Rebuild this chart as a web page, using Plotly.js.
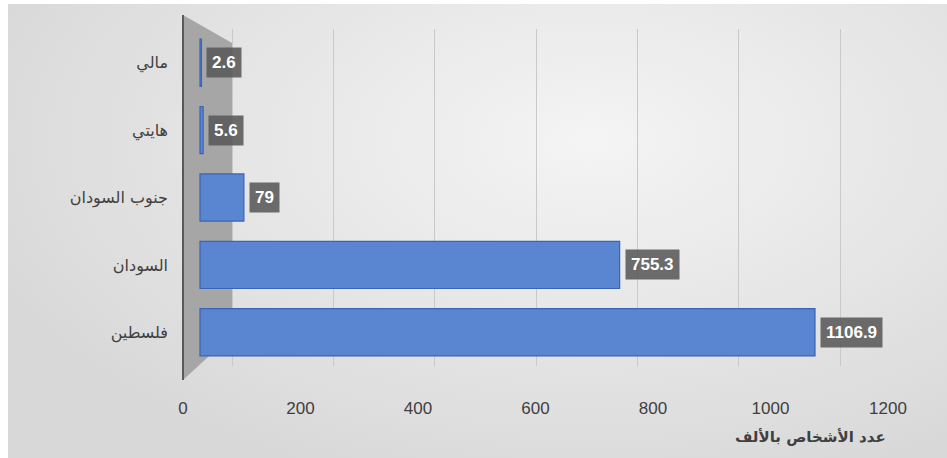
<!DOCTYPE html>
<html>
<head>
<meta charset="utf-8">
<script src="https://cdn.plot.ly/plotly-3.0.1.min.js"></script>
<style>
  html, body { margin: 0; padding: 0; background: #ffffff; }
  #chart {
    position: absolute; left: 8px; top: 4px; width: 939px; height: 454px;
    background: radial-gradient(ellipse 70% 80% at 62% 30%, #f4f4f4 0%, #e8e8e8 45%, #d8d8d8 100%);
  }
</style>
</head>
<body>
<div id="chart"></div>
<script>
// ---- data ----
const categories = ['مالي', 'هايتي', 'جنوب السودان', 'السودان', 'فلسطين'];
const values = [2.6, 5.6, 79, 755.3, 1106.9];
const xTickVals = [0, 200, 400, 600, 800, 1000, 1200];
const xTickText = ['0', '200', '400', '600', '800', '1000', '1200'];
const xAxisTitle = 'عدد الأشخاص بالألف';

// ---- layout geometry (page pixels) ----
const divLeft = 8, divTop = 4, W = 939, H = 454;
const m = { l: 175, r: 59, t: 25, b: 92 };
const plotW = W - m.l - m.r, plotH = H - m.t - m.b;
const pL = divLeft + m.l, pT = divTop + m.t;
const px2paper = px => (px - pL) / plotW;
const py2paper = py => 1 - (py - pT) / plotH;

function rangeFor(zeroPx, pxPerUnit) {
  return [(pL - zeroPx) / pxPerUnit, (pL + plotW - zeroPx) / pxPerUnit];
}

const wallPath = 'M ' + px2paper(183) + ' ' + py2paper(15) +
  ' L ' + px2paper(232) + ' ' + py2paper(43) +
  ' L ' + px2paper(232) + ' ' + py2paper(335) +
  ' L ' + px2paper(183) + ' ' + py2paper(380) + ' Z';

// empty helper traces so the tick-label axis (x) and back-wall grid axis (x2) are drawn
const tickTrace = { type: 'scatter', mode: 'markers', x: [], y: [], xaxis: 'x', yaxis: 'y',
  hoverinfo: 'skip', showlegend: false };
const gridTrace = { type: 'scatter', mode: 'markers', x: [], y: [], xaxis: 'x2', yaxis: 'y',
  hoverinfo: 'skip', showlegend: false };

const barTrace = {
  type: 'bar',
  orientation: 'h',
  x: values,
  y: categories,
  xaxis: 'x3',
  yaxis: 'y',
  width: 0.7,
  marker: { color: '#5A85D1', line: { color: '#3B64B5', width: 1.2 } },
  hoverinfo: 'skip',
  showlegend: false
};

const labelAnnotations = values.map((v, i) => ({
  x: v, y: categories[i], xref: 'x3', yref: 'y',
  text: '<b>' + v + '</b>',
  showarrow: false, xanchor: 'left', yanchor: 'middle', xshift: 5,
  bgcolor: 'rgba(89,89,89,0.88)', borderpad: 5,
  font: { family: 'Liberation Sans, Arial, sans-serif', size: 17, color: '#ffffff' }
}));

const layout = {
  width: W, height: H,
  margin: { l: m.l, r: m.r, t: m.t, b: m.b, pad: 0 },
  paper_bgcolor: 'rgba(0,0,0,0)',
  plot_bgcolor: 'rgba(0,0,0,0)',
  xaxis: {
    range: [0, 1200],
    tickmode: 'array', tickvals: xTickVals, ticktext: xTickText,
    showgrid: false, zeroline: false, showline: false, ticks: '',
    ticklabelstandoff: 30,
    tickfont: { family: 'Liberation Sans, Arial, sans-serif', size: 17, color: '#404040' },
    fixedrange: true
  },
  xaxis2: {
    overlaying: 'x', anchor: 'y', side: 'bottom',
    range: rangeFor(232, 608 / 1200),
    tickmode: 'array', tickvals: xTickVals,
    showticklabels: false, showgrid: true, gridcolor: '#c9c9c9', gridwidth: 1,
    zeroline: false, showline: false, ticks: ''
  },
  xaxis3: {
    overlaying: 'x', anchor: 'y', side: 'bottom',
    range: rangeFor(200, 615 / 1106.9),
    showticklabels: false, showgrid: false, zeroline: false, showline: false, ticks: ''
  },
  yaxis: {
    type: 'category',
    categoryorder: 'array', categoryarray: categories,
    range: [4.5, -0.5],
    showgrid: false, zeroline: false, showline: false, ticks: '',
    ticklabelstandoff: 14,
    tickfont: { family: 'DejaVu Sans, sans-serif', size: 16, color: '#404040' }
  },
  shapes: [
    { type: 'path', xref: 'paper', yref: 'paper', path: wallPath,
      fillcolor: '#a6a6a6', line: { width: 0 }, layer: 'below' },
    { type: 'line', xref: 'paper', yref: 'paper',
      x0: px2paper(183), x1: px2paper(183), y0: py2paper(15), y1: py2paper(380),
      line: { color: '#595959', width: 2 }, layer: 'below' }
  ],
  annotations: labelAnnotations.concat([{
    xref: 'paper', yref: 'paper', x: 1, y: py2paper(437),
    xanchor: 'right', yanchor: 'middle', showarrow: false,
    text: '<b>' + xAxisTitle + '</b>',
    font: { family: 'DejaVu Sans, sans-serif', size: 15, color: '#404040' }
  }])
};

Plotly.newPlot('chart', [tickTrace, gridTrace, barTrace], layout, { displayModeBar: false, staticPlot: true });
</script>
</body>
</html>
